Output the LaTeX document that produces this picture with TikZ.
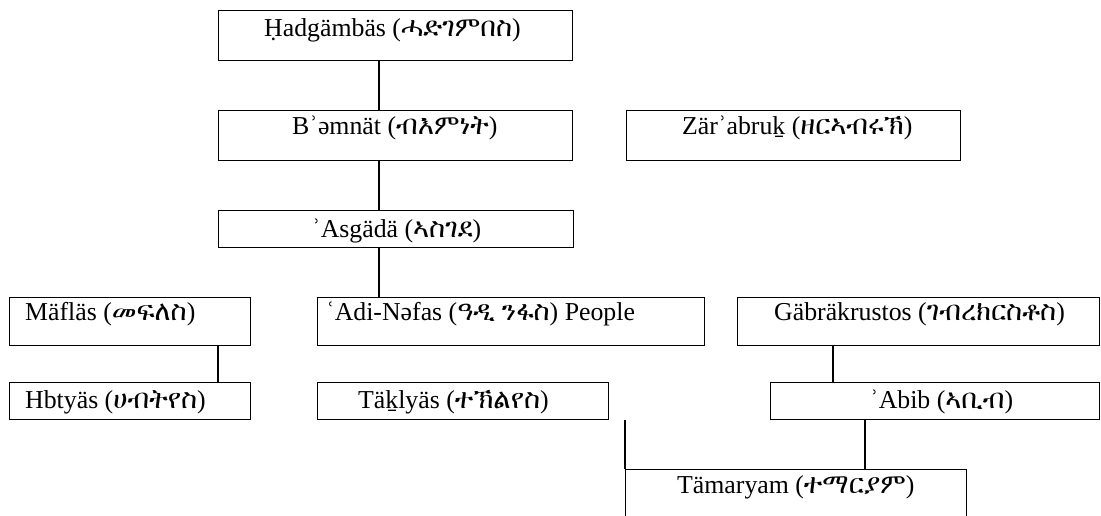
\documentclass[tikz,border=0pt]{standalone}
\usepackage{fontspec}
\setmainfont{Liberation Serif}
\IfFontExistsTF{FreeSerif}{\newfontfamily\eth[Scale=1.06]{FreeSerif}}{\newfontfamily\eth[Scale=1.06]{Abyssinica SIL}}
\begin{document}
\begin{tikzpicture}[x=1pt,y=-1pt,
  box/.style={draw, line width=1.1pt, inner sep=0pt, anchor=north west},
  txt/.style={inner sep=0pt, anchor=base west, font=\fontsize{25.8}{30}\selectfont},
  conn/.style={line width=1.1pt}]
\useasboundingbox (0,0) rectangle (1101,515);
\clip (0,0) rectangle (1101,515);
% boxes
\node[box, minimum width=354pt, minimum height=50pt] (b1) at (218,10) {};
\node[box, minimum width=354pt, minimum height=50pt] (b2) at (218,110) {};
\node[box, minimum width=334pt, minimum height=50pt] (zar) at (626,110) {};
\node[box, minimum width=355pt, minimum height=37pt] (b3) at (218,210) {};
\node[box, minimum width=241pt, minimum height=48pt] (mef) at (9,297) {};
\node[box, minimum width=387pt, minimum height=48pt] (adi) at (317,297) {};
\node[box, minimum width=362pt, minimum height=48pt] (gab) at (737,297) {};
\node[box, minimum width=241pt, minimum height=37pt] (hbt) at (9,382) {};
\node[box, minimum width=291pt, minimum height=37pt] (tak) at (317,382) {};
\node[box, minimum width=329pt, minimum height=37pt] (abib) at (770,382) {};
\node[box, minimum width=341pt, minimum height=80pt] (tam) at (625,469) {};
% texts
\node[txt] (t1) at (264,36) {Ḥadgämbäs ({\eth ሓድገምበስ})};
\node[txt] (t2) at (292,134) {Bʾəmnät ({\eth ብእምነት})};
\node[txt] (t3) at (682,134) {Zärʾabruḵ ({\eth ዘርኣብሩኽ})};
\node[txt] (t4) at (312,237) {ʾAsgädä ({\eth ኣስገደ})};
\node[txt] (t5) at (25,320) {Mäfläs ({\eth መፍለስ})};
\node[txt] (t6) at (326,320) {ʿAdi-Nəfas ({\eth ዓዲ ንፋስ}) People};
\node[txt] (t7) at (774,320) {Gäbräkrustos ({\eth ገብረክርስቶስ})};
\node[txt] (t8) at (25,408) {Hbtyäs ({\eth ሀብትየስ})};
\node[txt] (t9) at (358,408) {Täḵlyäs ({\eth ተኽልየስ})};
\node[txt] (t10) at (870,408) {ʾAbib ({\eth ኣቢብ})};
\node[txt] (t11) at (677,493) {Tämaryam ({\eth ተማርያም})};
% connectors
\coordinate (spine) at (379,0);
\coordinate (mx) at (218,0);
\coordinate (gx) at (833,0);
\coordinate (ax) at (865,0);
\draw[conn] (b1.south -| spine) -- (b2.north -| spine);
\draw[conn] (b2.south -| spine) -- (b3.north -| spine);
\draw[conn] (b3.south -| spine) -- (spine |- adi.north);
\draw[conn] (mef.south -| mx) -- (hbt.north -| mx);
\draw[conn] (gab.south -| gx) -- (abib.north -| gx);
\draw[conn] (abib.south -| ax) -- (tam.north -| ax);
\draw[conn] (tam.north west) -- (tam.north west |- abib.south);
\end{tikzpicture}
\end{document}
